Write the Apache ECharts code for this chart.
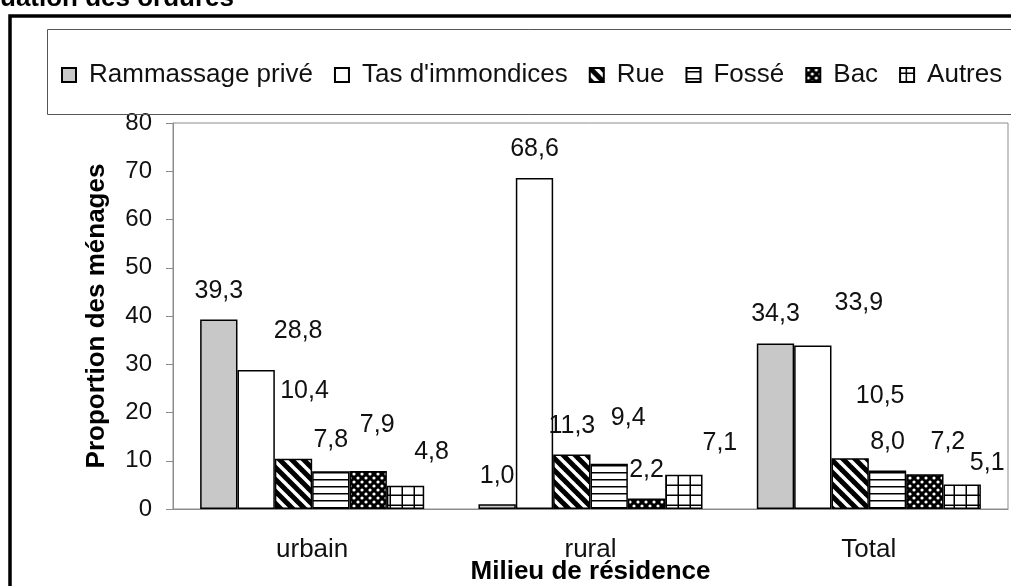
<!DOCTYPE html>
<html>
<head>
<meta charset="utf-8">
<script src="https://cdn.jsdelivr.net/npm/echarts@6/dist/echarts.min.js"></script>
<style>
  html, body { margin: 0; padding: 0; background: #fff; }
  #chart { width: 1011px; height: 586px; }
</style>
</head>
<body>
<div id="chart"></div>
<script>
// data (%)
const categories = ['urbain', 'rural', 'Total']
const rammassagePrive = [39.3, 1.0, 34.3]
const tasImmondices = [28.8, 68.6, 33.9]
const rue = [10.4, 11.3, 10.5]
const fosse = [7.8, 9.4, 8.0]
const bac = [7.9, 2.2, 7.2]
const autres = [4.8, 7.1, 5.1]
const seriesNames = ['Rammassage privé', "Tas d'immondices", 'Rue', 'Fossé', 'Bac', 'Autres']

const font = 'Liberation Sans, Arial, sans-serif'

const makePattern = (w, h, draw) => {
  const c = document.createElement('canvas')
  c.width = w
  c.height = h
  const ctx = c.getContext('2d')
  draw(ctx, w, h)
  return { image: c, repeat: 'repeat' }
}

const patterns = {
  rue: makePattern(12, 12, (ctx, w, h) => {
    ctx.fillStyle = '#fff'
    ctx.fillRect(0, 0, w, h)
    ctx.strokeStyle = '#000'
    ctx.lineWidth = 5
    for (let k = -1; k <= 1; k++) {
      ctx.beginPath()
      ctx.moveTo(-2, k * h - 2)
      ctx.lineTo(w + 2, h + k * h + 2)
      ctx.stroke()
    }
  }),
  fosse: makePattern(8, 7, (ctx, w, h) => {
    ctx.fillStyle = '#fff'
    ctx.fillRect(0, 0, w, h)
    ctx.fillStyle = '#000'
    ctx.fillRect(0, 3, w, 1.5)
  }),
  bac: makePattern(8, 8, (ctx, w, h) => {
    ctx.fillStyle = '#000'
    ctx.fillRect(0, 0, w, h)
    ctx.fillStyle = '#fff'
    ctx.beginPath()
    ctx.arc(2, 2, 1.6, 0, Math.PI * 2)
    ctx.arc(6, 6, 1.6, 0, Math.PI * 2)
    ctx.fill()
  }),
  autres: makePattern(12, 10, (ctx, w, h) => {
    ctx.fillStyle = '#fff'
    ctx.fillRect(0, 0, w, h)
    ctx.fillStyle = '#000'
    ctx.fillRect(5.5, 0, 1.5, h)
    ctx.fillRect(0, 4.5, w, 1.5)
  })
}

const fills = ['#c8c8c8', '#ffffff', patterns.rue, patterns.fosse, patterns.bac, patterns.autres]
const values = [rammassagePrive, tasImmondices, rue, fosse, bac, autres]

// label nudges to follow the original label placement
const labelOffsets = [
  [[0, 0], [0, 0], [0, -1]],
  [[42, -10], [0, 0], [46, -14]],
  [[11, -39], [0, 0], [30, -34]],
  [[0, -3], [19, -17], [0, 0]],
  [[9, -17], [0, 0], [23, -4]],
  [[26, -5], [36, -3], [25, 7]]
]

const chart = echarts.init(document.getElementById('chart'), null, { renderer: 'canvas' })

chart.setOption({
  animation: false,
  textStyle: { fontFamily: font },
  graphic: [
    {
      type: 'text',
      x: 0,
      y: -14,
      style: { text: 'uation des ordures', font: 'bold 26px ' + font, fill: '#000' }
    },
    {
      type: 'rect',
      shape: { x: 10, y: 16, width: 1100, height: 700 },
      style: { fill: 'none', stroke: '#000', lineWidth: 3.5 },
      z: 10
    },
    {
      type: 'rect',
      shape: { x: 47.5, y: 29.5, width: 1000, height: 85 },
      style: { fill: 'none', stroke: '#555', lineWidth: 1 },
      z: 10
    }
  ],
  legend: {
    left: 56,
    top: 57,
    itemWidth: 14,
    itemHeight: 14,
    itemGap: 21,
    icon: 'rect',
    textStyle: { fontSize: 26, color: '#111', fontFamily: font, padding: [0, 0, 0, 8] },
    data: seriesNames
  },
  grid: {
    left: 173,
    right: 3,
    top: 123,
    bottom: 77,
    containLabel: false,
    outerBoundsMode: 'none',
    show: true,
    borderColor: '#8c8c8c',
    borderWidth: 1
  },
  xAxis: {
    type: 'category',
    data: categories,
    name: 'Milieu de résidence',
    nameLocation: 'middle',
    nameGap: 50,
    nameMoveOverlap: false,
    nameTextStyle: { fontSize: 26, fontWeight: 'bold', color: '#000', fontFamily: font },
    axisLine: { lineStyle: { color: '#8c8c8c', width: 1 } },
    axisTick: { length: 7, lineStyle: { color: '#8c8c8c' } },
    axisLabel: { fontSize: 26, color: '#111', margin: 28, fontFamily: font }
  },
  yAxis: {
    type: 'value',
    min: 0,
    max: 80,
    interval: 10,
    name: 'Proportion des ménages',
    nameLocation: 'middle',
    nameGap: 63,
    nameMoveOverlap: false,
    nameTextStyle: { fontSize: 26, fontWeight: 'bold', color: '#000', fontFamily: font },
    axisLine: { show: true, lineStyle: { color: '#8c8c8c', width: 1 } },
    axisTick: { show: true, length: 7, lineStyle: { color: '#8c8c8c' } },
    axisLabel: { fontSize: 24, color: '#111', margin: 21, fontFamily: font },
    splitLine: { show: false }
  },
  series: seriesNames.map((name, i) => ({
    name,
    type: 'bar',
    barGap: '0%',
    barCategoryGap: '19.5%',
    itemStyle: { color: fills[i], borderColor: '#000', borderWidth: 1.5 },
    label: {
      show: true,
      position: 'top',
      distance: 16,
      fontSize: 25,
      color: '#111',
      fontFamily: font,
      formatter: (p) => p.value.toFixed(1).replace('.', ',')
    },
    data: values[i].map((v, j) => ({ value: v, label: { offset: labelOffsets[i][j] } }))
  }))
})
</script>
</body>
</html>
